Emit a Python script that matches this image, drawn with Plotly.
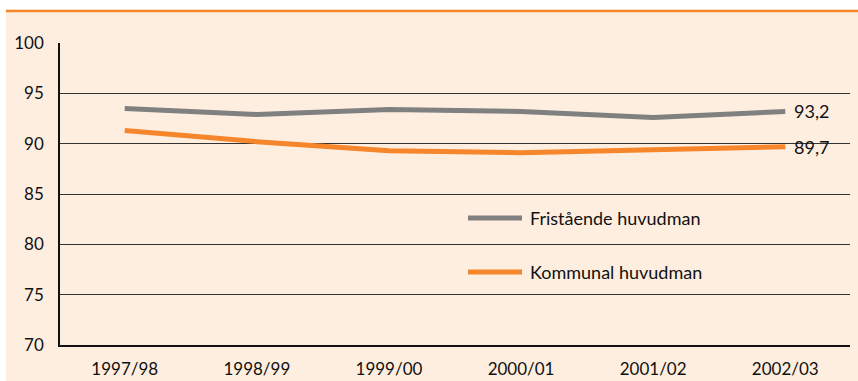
import plotly.graph_objects as go

# School years on the x axis
years = ["1997/98", "1998/99", "1999/00", "2000/01", "2001/02", "2002/03"]

# Share (%) per type of principal organiser
fristaende = [93.5, 92.9, 93.4, 93.2, 92.6, 93.2]
kommunal = [91.3, 90.2, 89.3, 89.1, 89.4, 89.7]

series_names = ["Fristående huvudman", "Kommunal huvudman"]
series_colors = ["#808080", "#F5862B"]

y_ticks = [70, 75, 80, 85, 90, 95, 100]

CREAM = "#FEEEDF"
FONT = "Lato"
TICK_SIZE = 17
LABEL_SIZE = 18

W, H = 858, 381
L, R, T, B = 60, 8, 43, 36
PW, PH = W - L - R, H - T - B


def px_x(px):
    return (px - L) / PW


def px_y(py):
    return (H - B - py) / PH


fig = go.Figure()

for name, vals, col in zip(series_names, [fristaende, kommunal], series_colors):
    fig.add_trace(go.Scatter(
        x=years, y=vals, mode="lines", name=name,
        line=dict(color=col, width=5),
        showlegend=False, hoverinfo="skip",
    ))
    # value label at the end of each line
    fig.add_annotation(
        x=years[-1], y=vals[-1], xref="x", yref="y",
        text=f"{vals[-1]:.1f}".replace(".", ","),
        showarrow=False, xanchor="left", yanchor="middle", xshift=7,
        font=dict(family=FONT, size=LABEL_SIZE, color="#111111"),
    )

# Legend drawn as line samples and labels inside the plot area
legend_rows = [218, 272]
for name, col, py in zip(series_names, series_colors, legend_rows):
    fig.add_shape(
        type="line", xref="paper", yref="paper",
        x0=px_x(468), x1=px_x(522), y0=px_y(py), y1=px_y(py),
        line=dict(color=col, width=5),
    )
    fig.add_annotation(
        x=px_x(528), y=px_y(py), xref="paper", yref="paper",
        text=name, showarrow=False, xanchor="left", yanchor="middle",
        font=dict(family=FONT, size=LABEL_SIZE, color="#111111"),
    )

# White strip at the top and left, plus the orange rule
fig.add_shape(type="rect", xref="paper", yref="paper",
              x0=px_x(-2), x1=px_x(W + 2), y0=px_y(9.5), y1=px_y(-2),
              fillcolor="white", line=dict(width=0), layer="below")
fig.add_shape(type="rect", xref="paper", yref="paper",
              x0=px_x(-2), x1=px_x(6), y0=px_y(H + 2), y1=px_y(-2),
              fillcolor="white", line=dict(width=0), layer="below")
fig.add_shape(type="line", xref="paper", yref="paper",
              x0=px_x(6), x1=px_x(W + 2), y0=px_y(11), y1=px_y(11),
              line=dict(color="#F5862B", width=2.5))

fig.update_layout(
    width=W, height=H,
    margin=dict(l=L, r=R, t=T, b=B, autoexpand=False),
    paper_bgcolor=CREAM, plot_bgcolor=CREAM,
    font=dict(family=FONT, size=TICK_SIZE, color="#111111"),
    xaxis=dict(
        type="category", range=[-0.49, 5.49], automargin=False,
        showgrid=False, zeroline=False,
        showline=True, linecolor="#111111", linewidth=1.5,
        ticks="", ticklabelstandoff=8,
        tickfont=dict(family=FONT, size=TICK_SIZE, color="#111111"),
    ),
    yaxis=dict(
        range=[70, 100], tickvals=y_ticks, automargin=False,
        showgrid=True, gridcolor="#333333", gridwidth=1,
        zeroline=False,
        showline=True, linecolor="#111111", linewidth=1.5,
        ticks="", ticklabelstandoff=11,
        tickfont=dict(family=FONT, size=TICK_SIZE, color="#111111"),
    ),
)

fig.write_html("out.html")
